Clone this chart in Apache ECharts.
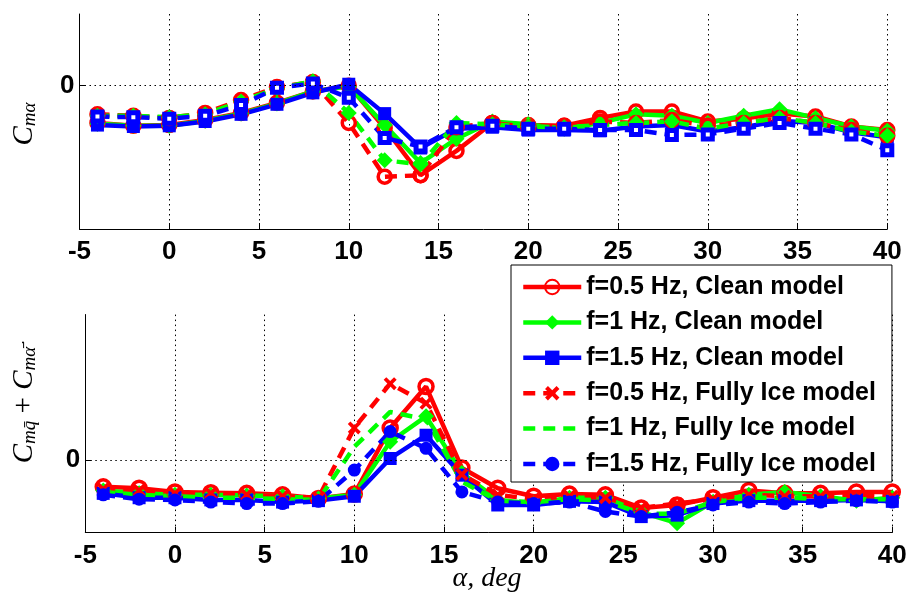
<!DOCTYPE html>
<html>
<head>
<meta charset="utf-8">
<script src="https://cdn.jsdelivr.net/npm/echarts@6/dist/echarts.min.js"></script>
<style>
html,body{margin:0;padding:0;background:#fff;}
#chart{width:911px;height:595px;}
</style>
</head>
<body>
<div id="chart"></div>
<script>
// ---- data ----
const alpha = [-4,-2,0,2,4,6,8,10,12,14,16,18,20,22,24,26,28,30,32,34,36,38,40];
const xTicks = [-5,0,5,10,15,20,25,30,35,40];
const seriesNames = ['f=0.5 Hz, Clean model','f=1 Hz, Clean model','f=1.5 Hz, Clean model',
  'f=0.5 Hz, Fully Ice model','f=1 Hz, Fully Ice model','f=1.5 Hz, Fully Ice model'];

// top panel: C_m_alpha
const topClean05 = [-0.52,-0.56,-0.55,-0.48,-0.38,-0.24,-0.08,0.00,-0.59,-1.25,-0.91,-0.52,-0.55,-0.56,-0.45,-0.36,-0.36,-0.50,-0.46,-0.39,-0.43,-0.57,-0.62];
const topClean1  = [-0.53,-0.56,-0.56,-0.49,-0.39,-0.25,-0.08,-0.01,-0.55,-1.08,-0.74,-0.50,-0.54,-0.60,-0.52,-0.40,-0.42,-0.52,-0.42,-0.33,-0.45,-0.57,-0.63];
const topClean15 = [-0.55,-0.57,-0.56,-0.50,-0.40,-0.26,-0.10,0.02,-0.39,-0.87,-0.60,-0.58,-0.62,-0.62,-0.63,-0.57,-0.55,-0.64,-0.58,-0.49,-0.52,-0.65,-0.72];
const topIce05   = [-0.40,-0.42,-0.45,-0.38,-0.20,-0.02,0.05,-0.52,-1.27,-1.25,-0.58,-0.52,-0.58,-0.56,-0.50,-0.52,-0.48,-0.56,-0.52,-0.45,-0.52,-0.62,-0.70];
const topIce1    = [-0.42,-0.42,-0.44,-0.40,-0.22,-0.04,0.06,-0.38,-1.04,-1.10,-0.52,-0.54,-0.57,-0.58,-0.55,-0.52,-0.50,-0.60,-0.52,-0.45,-0.52,-0.64,-0.70];
const topIce15   = [-0.43,-0.44,-0.46,-0.42,-0.27,-0.03,0.03,-0.17,-0.73,-0.85,-0.58,-0.56,-0.60,-0.60,-0.62,-0.62,-0.69,-0.68,-0.60,-0.52,-0.60,-0.68,-0.90];

// bottom panel: C_m_q + C_m_alphadot
const botClean05 = [-0.37,-0.39,-0.44,-0.45,-0.46,-0.48,-0.53,-0.47,0.44,1.01,-0.11,-0.39,-0.50,-0.47,-0.48,-0.66,-0.62,-0.52,-0.42,-0.46,-0.46,-0.44,-0.44];
const botClean1  = [-0.42,-0.46,-0.48,-0.48,-0.49,-0.50,-0.53,-0.48,0.25,0.60,-0.18,-0.55,-0.60,-0.52,-0.52,-0.72,-0.87,-0.58,-0.48,-0.44,-0.50,-0.56,-0.52];
const botClean15 = [-0.46,-0.52,-0.52,-0.55,-0.55,-0.58,-0.56,-0.50,0.02,0.34,-0.21,-0.62,-0.62,-0.57,-0.58,-0.78,-0.76,-0.60,-0.56,-0.56,-0.56,-0.55,-0.57];
const botIce05   = [-0.40,-0.42,-0.46,-0.46,-0.48,-0.50,-0.52,0.44,1.05,0.78,-0.20,-0.48,-0.54,-0.50,-0.52,-0.66,-0.60,-0.54,-0.48,-0.50,-0.50,-0.50,-0.50];
const botIce1    = [-0.44,-0.48,-0.50,-0.52,-0.52,-0.54,-0.55,0.18,0.66,0.56,-0.30,-0.56,-0.58,-0.54,-0.56,-0.74,-0.74,-0.58,-0.52,-0.52,-0.54,-0.54,-0.54];
const botIce15   = [-0.48,-0.54,-0.55,-0.58,-0.60,-0.60,-0.57,-0.14,0.39,0.16,-0.44,-0.58,-0.60,-0.58,-0.71,-0.78,-0.72,-0.62,-0.58,-0.60,-0.58,-0.56,-0.58];

// ---- styles ----
const RED = '#ff0000', GREEN = '#00ff00', BLUE = '#0000ff';
const FONT = 'Liberation Sans, Arial, sans-serif';
const SERIF = 'Liberation Serif, DejaVu Serif, serif';
const XSYM = 'path://M2,0 L5,3 L8,0 L10,2 L7,5 L10,8 L8,10 L5,7 L2,10 L0,8 L3,5 L0,2 Z';
const DASH = [12, 8];
const LW = 4.5;
const gridDot = {color: '#000', width: 1, type: [1.5, 3.5]};

function pts(arr){ return alpha.map((a,i)=>[a, arr[i]]); }

function mk(name, arr, idx, color, dashed, symbol, size, itemStyle, extra){
  return Object.assign({
    name: name, type: 'line', xAxisIndex: idx, yAxisIndex: idx,
    data: pts(arr), color: color,
    symbol: symbol, symbolSize: size, showSymbol: symbol !== 'none',
    lineStyle: {color: color, width: LW, type: dashed ? DASH : 'solid'},
    itemStyle: itemStyle || {color: color},
    animation: false, z: 3
  }, extra || {});
}

const openCircle = {color: 'rgba(255,255,255,0)', borderColor: RED, borderWidth: 3.5};
const openSquare = {color: '#fff', borderColor: BLUE, borderWidth: 5};
const noMark = {color: 'rgba(0,0,0,0)', borderWidth: 0};

function zeroLine(){
  return {silent: true, symbol: 'none', label: {show: false},
    lineStyle: gridDot, data: [{yAxis: 0}], animation: false};
}

const xAxisBase = (idx) => ({
  type: 'value', gridIndex: idx, min: -5, max: 40, interval: 5,
  axisLine: {show: true, onZero: false, lineStyle: {color: '#000', width: 1}},
  axisTick: {show: true, inside: true, length: 6, lineStyle: {color: '#000'}},
  axisLabel: {color: '#000', fontSize: 26, fontWeight: 'bold', fontFamily: FONT, margin: 10},
  splitLine: {show: true, lineStyle: gridDot}
});
const yAxisBase = (idx, mn, mx) => ({
  type: 'value', gridIndex: idx, min: mn, max: mx, interval: 1,
  axisLine: {show: true, onZero: false, lineStyle: {color: '#000', width: 1}},
  axisTick: {show: true, inside: true, length: 6, customValues: [0], lineStyle: {color: '#000'}},
  axisLabel: {color: '#000', fontSize: 26, fontWeight: 'bold', fontFamily: FONT, margin: 5,
    customValues: [0], formatter: v => (Math.abs(v) < 1e-9 ? '0' : '')},
  splitLine: {show: false}
});

const topNames = seriesNames.map(n => n + ' ');
const series = [
  mk(topNames[0], topClean05, 0, RED, false, 'circle', 13, openCircle, {markLine: zeroLine()}),
  mk(topNames[1], topClean1, 0, GREEN, false, 'diamond', 16),
  mk(topNames[2], topClean15, 0, BLUE, false, 'rect', 13),
  mk(topNames[3], topIce05, 0, RED, true, 'circle', 13, openCircle),
  mk(topNames[4], topIce1, 0, GREEN, true, 'diamond', 16),
  mk(topNames[5], topIce15, 0, BLUE, true, 'rect', 9, openSquare),

  mk(seriesNames[0], botClean05, 1, RED, false, 'circle', 14, openCircle, {markLine: zeroLine()}),
  mk(seriesNames[1], botClean1, 1, GREEN, false, 'diamond', 16),
  mk(seriesNames[2], botClean15, 1, BLUE, false, 'rect', 13),
  mk(seriesNames[3], botIce05, 1, RED, true, XSYM, 13),
  mk(seriesNames[4], botIce1, 1, GREEN, true, 'none', 1, noMark),
  mk(seriesNames[5], botIce15, 1, BLUE, true, 'circle', 13)
];

const chart = echarts.init(document.getElementById('chart'), null, {renderer: 'canvas'});
chart.setOption({
  backgroundColor: '#fff',
  animation: false,
  grid: [
    {left: 79.5, top: 14, width: 807.8, height: 215, containLabel: false},
    {left: 85.3, top: 314.6, width: 807, height: 218, containLabel: false}
  ],
  xAxis: [xAxisBase(0), xAxisBase(1)],
  yAxis: [yAxisBase(0, -2, 1), yAxisBase(1, -1, 2)],
  legend: {
    data: seriesNames,
    orient: 'vertical',
    left: 511, top: 265,
    padding: [9, 16, 5, 10],
    itemGap: 9.4,
    itemWidth: 58, itemHeight: 18,
    backgroundColor: '#fff',
    borderColor: '#000', borderWidth: 1, borderRadius: 0,
    lineStyle: {width: LW},
    textStyle: {color: '#000', fontSize: 25, fontWeight: 'bold', fontFamily: FONT, lineHeight: 26},
    selectedMode: false,
    z: 10
  },
  graphic: [
    {type: 'text', x: 24, y: 124, rotation: Math.PI/2, z: 20,
      style: {text: '{c|C}{s|mα}', align: 'center', verticalAlign: 'middle',
        rich: {c: {fontSize: 29, fontStyle: 'italic', fontFamily: SERIF, fill: '#000'},
               s: {fontSize: 19, fontStyle: 'italic', fontFamily: SERIF, fill: '#000', padding: [12, 0, 0, 0]}}}},
    {type: 'text', x: 24, y: 405, rotation: Math.PI/2, z: 20,
      style: {text: '{c|C}{s|mq\u0304}{p| + }{c|C}{s|m\u03b1\u0307\u0304}', align: 'center', verticalAlign: 'middle',
        rich: {c: {fontSize: 29, fontStyle: 'italic', fontFamily: SERIF, fill: '#000'},
               p: {fontSize: 29, fontFamily: SERIF, fill: '#000'},
               s: {fontSize: 19, fontStyle: 'italic', fontFamily: SERIF, fill: '#000', padding: [12, 0, 0, 0]}}}},
    {type: 'text', x: 487, y: 579, z: 20,
      style: {text: 'α, deg', align: 'center', verticalAlign: 'middle',
        fontSize: 28, fontStyle: 'italic', fontFamily: SERIF, fill: '#000'}}
  ],
  series: series
});
</script>
</body>
</html>
